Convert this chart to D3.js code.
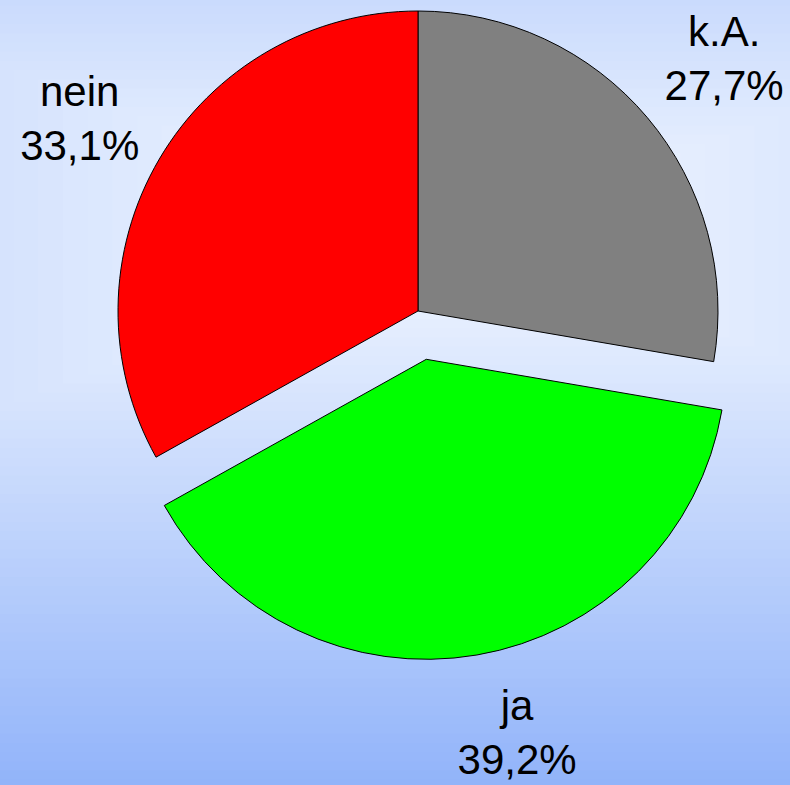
<!DOCTYPE html>
<html>
<head>
<meta charset="utf-8">
<script src="https://cdn.jsdelivr.net/npm/d3@7"></script>
<style>
  body { margin: 0; }
  svg { display: block; }
</style>
</head>
<body>
<script>
// chart data
var categories = ["k.A.", "ja", "nein"];
var values = [27.7, 39.2, 33.1];
var labels = ["27,7%", "39,2%", "33,1%"];
var colors = ["#808080", "#00ff00", "#ff0000"];
var exploded = [false, true, false];

var width = 790;
var height = 785;
var cx = 418, cy = 311;
var radius = 300;
var explodeBy = 49;
var labelRadius = 390;

var svg = d3.select("body")
  .append("svg")
  .attr("width", width)
  .attr("height", height);

// rectangular background gradient, drawn as nested rects (outer first)
var bgCx = 458, bgCy = 236, bgAx = 1580, bgAy = 590;
var bgColor = d3.interpolateRgb("#f5f9ff", "#8bafF9");
var steps = d3.range(64, 0, -1).map(function(i) { return i / 64; });
svg.append("g")
  .selectAll("rect")
  .data(steps)
  .enter()
  .append("rect")
  .attr("x", function(s) { return bgCx - s * bgAx; })
  .attr("y", function(s) { return bgCy - s * bgAy; })
  .attr("width", function(s) { return 2 * s * bgAx; })
  .attr("height", function(s) { return 2 * s * bgAy; })
  .attr("fill", function(s) { return bgColor(s); });

var pie = d3.pie()
  .sort(null)
  .value(function(d) { return d; });

var arc = d3.arc()
  .innerRadius(0)
  .outerRadius(radius);

var arcs = pie(values);

function offset(d, i) {
  if (!exploded[i]) return [0, 0];
  var a = (d.startAngle + d.endAngle) / 2;
  return [Math.sin(a) * explodeBy, -Math.cos(a) * explodeBy];
}

var g = svg.append("g")
  .attr("transform", "translate(" + cx + "," + cy + ")");

g.selectAll("path")
  .data(arcs)
  .enter()
  .append("path")
  .attr("transform", function(d, i) {
    var o = offset(d, i);
    return "translate(" + o[0] + "," + o[1] + ")";
  })
  .attr("d", arc)
  .style("fill", function(d, i) { return colors[i]; })
  .style("stroke", "#000")
  .style("stroke-width", "1");

// small tweaks so the labels sit where the original put them
var nudge = [[8, -2], [25, -12], [-2, 4]];

var label = g.selectAll("text")
  .data(arcs)
  .enter()
  .append("text")
  .attr("text-anchor", "middle")
  .style("font-family", "'Liberation Sans', Arial, sans-serif")
  .style("font-size", "42px")
  .style("fill", "#000")
  .attr("transform", function(d, i) {
    var o = offset(d, i);
    var a = (d.startAngle + d.endAngle) / 2;
    var x = o[0] + Math.sin(a) * labelRadius + nudge[i][0];
    var y = o[1] - Math.cos(a) * labelRadius + nudge[i][1];
    return "translate(" + x + "," + y + ")";
  });

label.append("tspan")
  .attr("x", 0)
  .attr("y", -11.5)
  .text(function(d, i) { return categories[i]; });

label.append("tspan")
  .attr("x", 0)
  .attr("y", 42)
  .text(function(d, i) { return labels[i]; });
</script>
</body>
</html>
